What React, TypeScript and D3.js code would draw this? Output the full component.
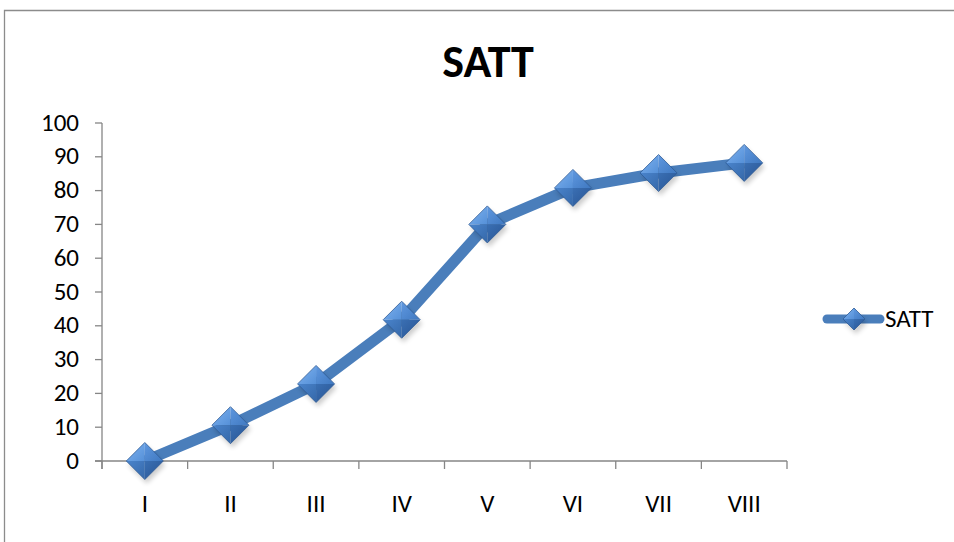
import React from "react";
import * as d3 from "d3";

const categories: string[] = ["I", "II", "III", "IV", "V", "VI", "VII", "VIII"];
const values: number[] = [0, 10.6, 22.8, 41.8, 70, 80.8, 85.2, 88.2];
const yTicks: number[] = [0, 10, 20, 30, 40, 50, 60, 70, 80, 90, 100];
const seriesName = "SATT";
const title = "SATT";

const W = 954;
const H = 542;
const plot = { left: 102, right: 787, top: 123, bottom: 461 };
const lineColor = "#4A7EBB";
const axisColor = "#868686";
const font = "Carlito, Calibri, 'Liberation Sans', Arial, sans-serif";

function Diamond({ cx, cy, r }: { cx: number; cy: number; r: number }) {
  const t = [cx, cy - r];
  const rr = [cx + r, cy];
  const b = [cx, cy + r];
  const l = [cx - r, cy];
  const c = [cx, cy];
  const p = (pts: number[][]) => "M" + pts.map((q) => q.join(",")).join("L") + "Z";
  return (
    <g>
      <path d={p([[t[0] + 2, t[1] + 4], [rr[0] + 2, rr[1] + 4], [b[0] + 2, b[1] + 4], [l[0] + 2, l[1] + 4]])} fill="#000" opacity={0.2} filter="url(#blurShadow)" />
      <path d={p([t, c, l])} fill="url(#gTL)" />
      <path d={p([t, rr, c])} fill="url(#gTR)" />
      <path d={p([l, c, b])} fill="url(#gBL)" />
      <path d={p([c, rr, b])} fill="url(#gBR)" />
      <path d={p([t, rr, b, l])} fill="none" stroke="#2f5c97" strokeWidth={0.8} />
    </g>
  );
}

export default function App() {
  const x = d3.scaleBand<string>().domain(categories).range([plot.left, plot.right]);
  const y = d3.scaleLinear().domain([0, 100]).range([plot.bottom, plot.top]);
  const cxOf = (c: string) => (x(c) as number) + x.bandwidth() / 2;

  const line = d3
    .line<number>()
    .x((_, i) => cxOf(categories[i]))
    .y((d) => y(d));

  const boundaries = d3.range(categories.length + 1).map((i) => plot.left + i * x.step());
  const r = 18.5;

  const legY = 319;

  return (
    <svg width={W} height={H} style={{ position: "absolute", left: 0, top: 0, background: "#fff" }}>
      <defs>
        <filter id="blurShadow" x="-50%" y="-50%" width="200%" height="200%">
          <feGaussianBlur stdDeviation={2.5} />
        </filter>
        <linearGradient id="gTL" x1="0" y1="0" x2="1" y2="1">
          <stop offset="0" stopColor="#7fb3f0" />
          <stop offset="1" stopColor="#5590d8" />
        </linearGradient>
        <linearGradient id="gTR" x1="0" y1="0" x2="1" y2="1">
          <stop offset="0" stopColor="#5f98e0" />
          <stop offset="1" stopColor="#3f78c0" />
        </linearGradient>
        <linearGradient id="gBL" x1="0" y1="0" x2="1" y2="1">
          <stop offset="0" stopColor="#4a84cc" />
          <stop offset="1" stopColor="#3568a9" />
        </linearGradient>
        <linearGradient id="gBR" x1="0" y1="0" x2="1" y2="1">
          <stop offset="0" stopColor="#3a6fb3" />
          <stop offset="1" stopColor="#285493" />
        </linearGradient>
      </defs>
      <rect x={0} y={0} width={W} height={H} fill="#fff" />
      {/* chart border */}
      <path d={`M4.5,${H}V10.5H${W}`} fill="none" stroke="#8c8c8c" strokeWidth={1.3} />

      <text x={488} y={77} textAnchor="middle" fontFamily={font} fontWeight="bold" fontSize={46} fill="#000">
        {title}
      </text>

      {/* y axis */}
      <line x1={plot.left} x2={plot.left} y1={plot.top} y2={plot.bottom + 8} stroke={axisColor} strokeWidth={1.3} />
      {yTicks.map((t) => (
        <g key={t}>
          <line x1={plot.left - 7} x2={plot.left} y1={y(t)} y2={y(t)} stroke={axisColor} strokeWidth={1.3} />
          <text x={plot.left - 23} y={y(t) + 7.5} textAnchor="end" fontFamily={font} fontSize={25} fill="#000">
            {t}
          </text>
        </g>
      ))}

      {/* x axis */}
      <line x1={plot.left - 7} x2={plot.right} y1={plot.bottom} y2={plot.bottom} stroke={axisColor} strokeWidth={1.3} />
      {boundaries.map((b, i) => (
        <line key={i} x1={b} x2={b} y1={plot.bottom} y2={plot.bottom + 8} stroke={axisColor} strokeWidth={1.3} />
      ))}
      {categories.map((c) => (
        <text key={c} x={cxOf(c)} y={512} textAnchor="middle" fontFamily={font} fontSize={25} fill="#000">
          {c}
        </text>
      ))}

      {/* series */}
      <path d={line(values) || ""} fill="none" stroke={lineColor} strokeWidth={11} strokeLinejoin="round" />
      {values.map((v, i) => (
        <Diamond key={i} cx={cxOf(categories[i])} cy={y(v)} r={r} />
      ))}

      {/* legend */}
      <line x1={827} x2={880} y1={legY} y2={legY} stroke={lineColor} strokeWidth={9} strokeLinecap="round" />
      <Diamond cx={854} cy={legY} r={11} />
      <text x={885} y={legY + 8} fontFamily={font} fontSize={25} fill="#000">
        {seriesName}
      </text>
    </svg>
  );
}
